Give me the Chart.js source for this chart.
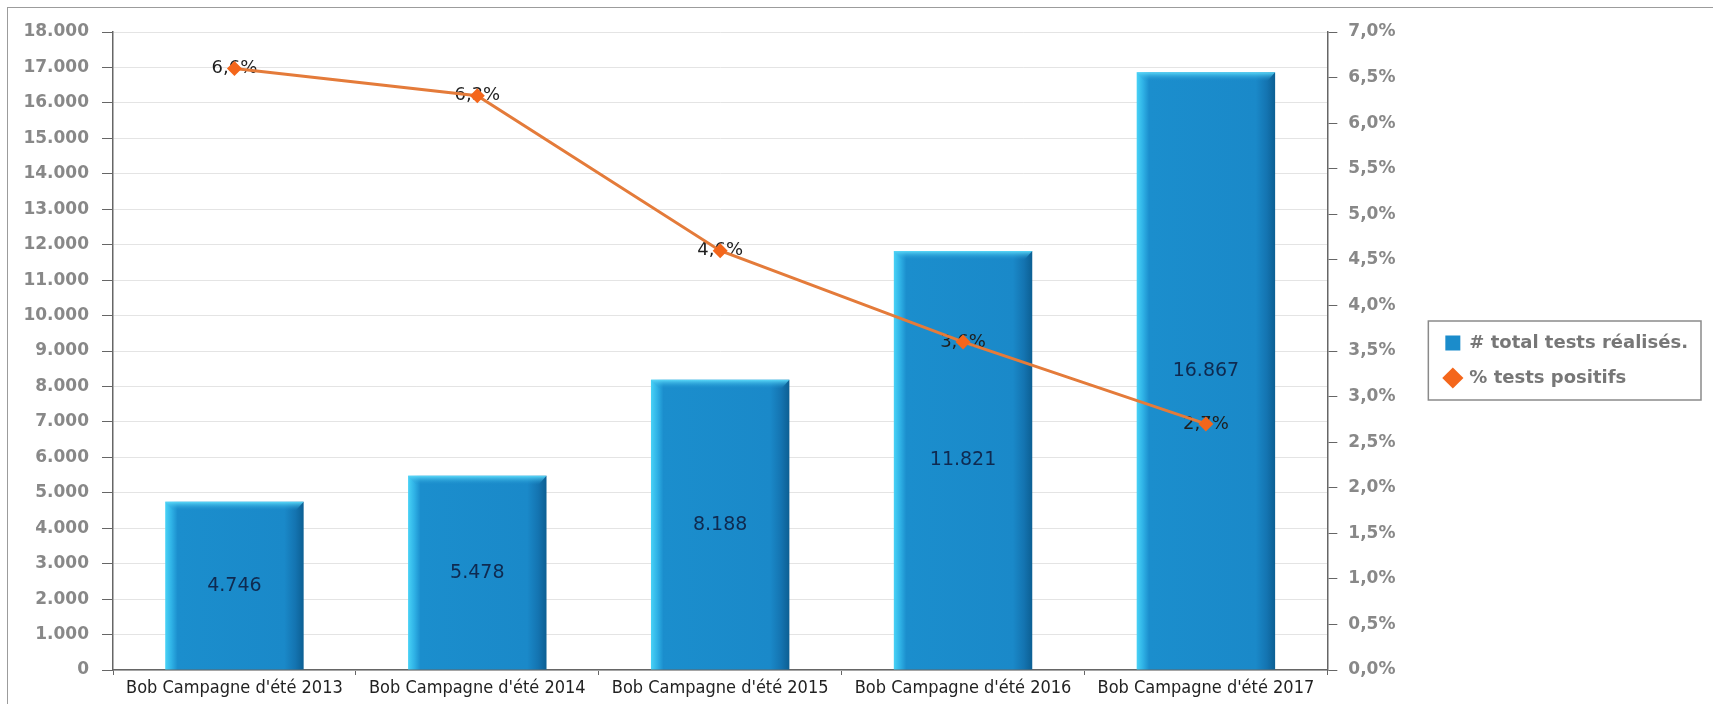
<!DOCTYPE html>
<html>
<head>
<meta charset="utf-8">
<script src="https://cdn.jsdelivr.net/npm/chart.js@4.4.1/dist/chart.umd.min.js"></script>
<style>
  html, body { margin: 0; padding: 0; background: #fff; overflow: hidden; }
  #wrap { position: relative; width: 1713px; height: 704px; }
  #frame { position: absolute; left: 7px; top: 7px; width: 1720px; height: 720px;
           border-top: 1px solid #9c9c9c; border-left: 1px solid #9c9c9c; pointer-events: none; }
</style>
</head>
<body>
<div id="wrap">
  <canvas id="chart" width="1713" height="704"></canvas>
  <div id="frame"></div>
</div>
<script>
// ---------------------------------------------------------------------------
//  Data
// ---------------------------------------------------------------------------
const categories  = [
  "Bob Campagne d'été 2013", "Bob Campagne d'été 2014", "Bob Campagne d'été 2015",
  "Bob Campagne d'été 2016", "Bob Campagne d'été 2017",
];
const seriesNames = ['# total tests réalisés.', '% tests positifs'];
const testsTotal  = [4746, 5478, 8188, 11821, 16867];
const pctPositive = [6.6, 6.3, 4.6, 3.6, 2.7];
const leftAxis    = { max: 18000, step: 1000 };
const rightAxis   = { max: 7, step: 0.5 };

const PAD_RIGHT = 15;
const BAR_PCT   = 0.57;

const fmtInt = v => String(Math.round(v)).replace(/\B(?=(\d{3})+(?!\d))/g, '.');
const fmtPct = v => v.toFixed(1).replace('.', ',') + '%';

const TICK_FONT = { family: 'DejaVu Sans', size: 17, weight: 'bold' };

function barFill(c) {
  const chart = c.chart;
  if (!chart.chartArea || c.dataIndex === undefined) return '#1b8ccb';
  const xs = chart.scales.x;
  const cx = xs.getPixelForValue(c.dataIndex);
  const w  = xs.width / categories.length * BAR_PCT;
  const g  = chart.ctx.createLinearGradient(cx - w / 2, 0, cx + w / 2, 0);
  g.addColorStop(0.00, '#48d2f6');
  g.addColorStop(0.045, '#2fb2e6');
  g.addColorStop(0.09, '#1b8ecd');
  g.addColorStop(0.86, '#1a89c9');
  g.addColorStop(0.94, '#1474b1');
  g.addColorStop(1.00, '#0c5f93');
  return g;
}

// labels + top bevel, drawn right after the bars so the line sits on top
const decorPlugin = {
  id: 'decor',
  afterDatasetDraw(chart, args) {
    if (args.index !== 1) return;
    const ctx = chart.ctx;
    const bars = chart.getDatasetMeta(1).data;
    ctx.save();
    bars.forEach(b => {
      const l = b.x - b.width / 2, r = b.x + b.width / 2, t = b.y;
      const g = ctx.createLinearGradient(0, t, 0, t + 9);
      g.addColorStop(0, '#5ad8f8');
      g.addColorStop(1, 'rgba(27,142,205,0)');
      ctx.fillStyle = g;
      ctx.beginPath();
      ctx.moveTo(l, t); ctx.lineTo(r, t); ctx.lineTo(r - 8, t + 9); ctx.lineTo(l + 8, t + 9);
      ctx.closePath(); ctx.fill();
    });
    ctx.textAlign = 'center';
    ctx.textBaseline = 'middle';
    ctx.font = '19px "DejaVu Sans"';
    ctx.fillStyle = '#0f2a50';
    bars.forEach((b, i) => ctx.fillText(fmtInt(testsTotal[i]), b.x, (b.y + b.base) / 2));
    ctx.font = '18px "DejaVu Sans"';
    ctx.fillStyle = '#1e1e1e';
    chart.getDatasetMeta(0).data.forEach((p, i) => ctx.fillText(fmtPct(pctPositive[i]), p.x, p.y));
    ctx.restore();
  },
  afterDraw(chart) {
    const boxes = chart.legend && chart.legend.legendHitBoxes;
    if (!boxes || !boxes.length) return;
    const l = Math.min(...boxes.map(b => b.left)) - 17;
    const r = Math.max(...boxes.map(b => b.left + b.width)) + 13;
    const t = Math.min(...boxes.map(b => b.top)) - 13;
    const bt = Math.max(...boxes.map(b => b.top + b.height)) + 13;
    const ctx = chart.ctx;
    ctx.save();
    ctx.strokeStyle = '#8a8a8a';
    ctx.lineWidth = 1.5;
    ctx.strokeRect(l, t, r - l, bt - t);
    ctx.restore();
  },
};

new Chart(document.getElementById('chart'), {
  type: 'bar',
  data: {
    labels: categories,
    datasets: [
      {
        type: 'line', label: seriesNames[1], data: pctPositive, yAxisID: 'y1', order: 0,
        borderColor: '#e47b3a', borderWidth: 3, tension: 0,
        pointStyle: 'rectRot', pointRadius: 7.5, pointHoverRadius: 7.5,
        pointBackgroundColor: '#f4661b', pointBorderWidth: 0,
      },
      {
        type: 'bar', label: seriesNames[0], data: testsTotal, yAxisID: 'y', order: 1,
        backgroundColor: barFill, borderWidth: 0,
        barPercentage: BAR_PCT, categoryPercentage: 1,
      },
    ],
  },
  options: {
    responsive: false,
    animation: false,
    layout: { padding: { left: 8, top: 32, right: PAD_RIGHT, bottom: 0 } },
    plugins: {
      tooltip: { enabled: false },
      legend: {
        position: 'right', align: 'center', fullSize: false,
        title: { display: true, text: ' ', font: { size: 19, lineHeight: 1 }, padding: 0 },
        labels: {
          usePointStyle: true, boxWidth: 15, boxHeight: 15, padding: 17,
          color: '#777', font: { family: 'DejaVu Sans', size: 18, weight: 'bold' },
          generateLabels: () => [
            { text: seriesNames[0], fillStyle: '#1b8ccb', strokeStyle: '#1b8ccb', lineWidth: 0,
              pointStyle: 'rect', datasetIndex: 1, hidden: false, fontColor: '#777' },
            { text: seriesNames[1], fillStyle: '#f4661b', strokeStyle: '#f4661b', lineWidth: 0,
              pointStyle: 'rectRot', datasetIndex: 0, hidden: false, fontColor: '#777' },
          ],
        },
      },
    },
    scales: {
      x: {
        grid: { display: true, drawOnChartArea: false, offset: true, tickLength: 5, color: '#666' },
        border: { color: '#666', width: 1.5 },
        ticks: { color: '#222', font: { family: "'Liberation Sans Narrow', 'DejaVu Sans Condensed', sans-serif", size: 18 },
                 padding: 3, autoSkip: false, maxRotation: 0 },
        afterFit(s) { s.height = 34; },
      },
      y: {
        position: 'left', min: 0, max: leftAxis.max,
        ticks: { stepSize: leftAxis.step, callback: v => fmtInt(v), color: '#888', font: TICK_FONT, padding: 13 },
        grid: { color: '#e4e4e4', tickColor: '#666', tickLength: 11 },
        border: { color: '#666', width: 1.5 },
        afterFit(s) { s.width = 105; },
      },
      y1: {
        position: 'right', min: 0, max: rightAxis.max,
        ticks: { stepSize: rightAxis.step, callback: v => fmtPct(v), color: '#888', font: TICK_FONT, padding: 11 },
        grid: { drawOnChartArea: false, tickColor: '#666', tickLength: 10 },
        border: { color: '#666', width: 1.5 },
        afterFit(s) { s.width = 101; },
      },
    },
  },
  plugins: [decorPlugin],
});
</script>
</body>
</html>
